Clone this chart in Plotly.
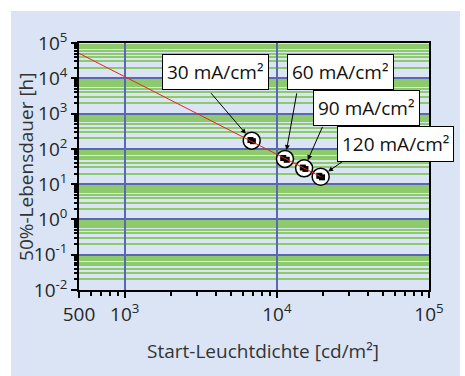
import math
import plotly.graph_objects as go

# Data
labels = ["30 mA/cm²", "60 mA/cm²", "90 mA/cm²", "120 mA/cm²"]
lum = [6830, 11300, 15100, 19400]          # cd/m²
life = [171, 52, 28, 16.3]                 # h
meas_lum = [6700, 6950, 11000, 11600, 14800, 15400, 19000, 19800]
meas_life = [178, 165, 55, 49, 29.5, 27, 17.2, 15.6]
fit_lum = [500, 19400]
fit_life = [51000, 16.3]

x_tickvals = [500, 1e3, 1e4, 1e5]
x_ticktext = ["500", "10<sup>3</sup>", "10<sup>4</sup>", "10<sup>5</sup>"]
y_exps = [-2, -1, 0, 1, 2, 3, 4, 5]
y_tickvals = [10.0 ** e for e in y_exps]
y_ticktext = [f"10<sup>{e}</sup>" for e in y_exps]

# offsets (px) of label boxes and arrow tails relative to the points
label_off = [(-36, -69), (56, -87), (62, -60), (75, -33)]
arrow_off = [(-42, -49), (12, -67), (19, -43), (26, -18)]

BG = "#dae4f4"
FONT = "Open Sans"

fig = go.Figure()
fig.add_trace(go.Scatter(x=lum, y=life, mode="markers",
                         marker=dict(size=17, color="white",
                                     line=dict(color="black", width=1.5)),
                         showlegend=False, hoverinfo="skip"))
fig.add_trace(go.Scatter(x=meas_lum, y=meas_life, mode="markers",
                         marker=dict(size=6, color="black", symbol="square"),
                         showlegend=False))
fig.add_trace(go.Scatter(x=fit_lum, y=fit_life, mode="lines",
                         line=dict(color="#e8261c", width=1),
                         showlegend=False))

for lab, xv, yv, lo, ao in zip(labels, lum, life, label_off, arrow_off):
    lx, ly = math.log10(xv), math.log10(yv)
    fig.add_annotation(x=lx, y=ly, xref="x", yref="y",
                       text="", showarrow=True, ax=ao[0], ay=ao[1],
                       arrowhead=2, arrowsize=1, arrowwidth=1, arrowcolor="black",
                       standoff=9)
    fig.add_annotation(x=lx, y=ly, xref="x", yref="y",
                       text=lab, showarrow=True, ax=lo[0], ay=lo[1],
                       arrowcolor="rgba(0,0,0,0)", arrowwidth=0.1,
                       bgcolor="white", bordercolor="black", borderwidth=1,
                       borderpad=4, font=dict(family=FONT, size=19, color="#111"))

# axis titles
fig.add_annotation(x=0.526, y=-0.247, xref="paper", yref="paper",
                   text="Start-Leuchtdichte [cd/m²]", showarrow=False,
                   font=dict(family=FONT, size=19, color="#333"), yanchor="middle")
fig.add_annotation(x=-0.153, y=0.5, xref="paper", yref="paper",
                   text="50%-Lebensdauer [h]", showarrow=False, textangle=-90,
                   font=dict(family=FONT, size=19, color="#333"), xanchor="center")

# light blue panel
fig.add_shape(type="rect", xref="paper", yref="paper",
              x0=(11 - 79) / 350, x1=(460 - 79) / 350,
              y0=(290 - 380) / 247, y1=(290 - 11) / 247,
              fillcolor=BG, line=dict(width=0), layer="below")

fig.update_xaxes(type="log", range=[2.69897, 5], tickvals=x_tickvals, ticktext=x_ticktext,
                 ticks="outside", ticklen=6, tickwidth=1.5, tickcolor="black",
                 showline=True, linecolor="black", linewidth=1.5, mirror=True,
                 showgrid=True, gridcolor="#5a68b4", gridwidth=1.5,
                 minor=dict(dtick="D1", ticks="outside", ticklen=4, tickcolor="black",
                            showgrid=False),
                 tickfont=dict(family=FONT, size=19, color="#262626"), zeroline=False)
fig.update_yaxes(type="log", range=[-2, 5], tickvals=y_tickvals, ticktext=y_ticktext,
                 ticks="outside", ticklen=6, tickwidth=1.5, tickcolor="black",
                 showline=True, linecolor="black", linewidth=1.5, mirror=True,
                 showgrid=True, gridcolor="#5a68b4", gridwidth=1.5,
                 minor=dict(dtick="D1", ticks="outside", ticklen=3, tickcolor="black",
                            showgrid=True, gridcolor="#8cca6c", gridwidth=1.5),
                 tickfont=dict(family=FONT, size=19, color="#262626"), zeroline=False)

fig.update_layout(width=465, height=376,
                  margin=dict(l=79, r=36, t=43, b=86),
                  paper_bgcolor="white", plot_bgcolor=BG,
                  font=dict(family=FONT))

fig.write_html("out.html", config={"displayModeBar": False},
               post_script="document.body.style.margin='0';document.body.style.overflow='hidden';")
